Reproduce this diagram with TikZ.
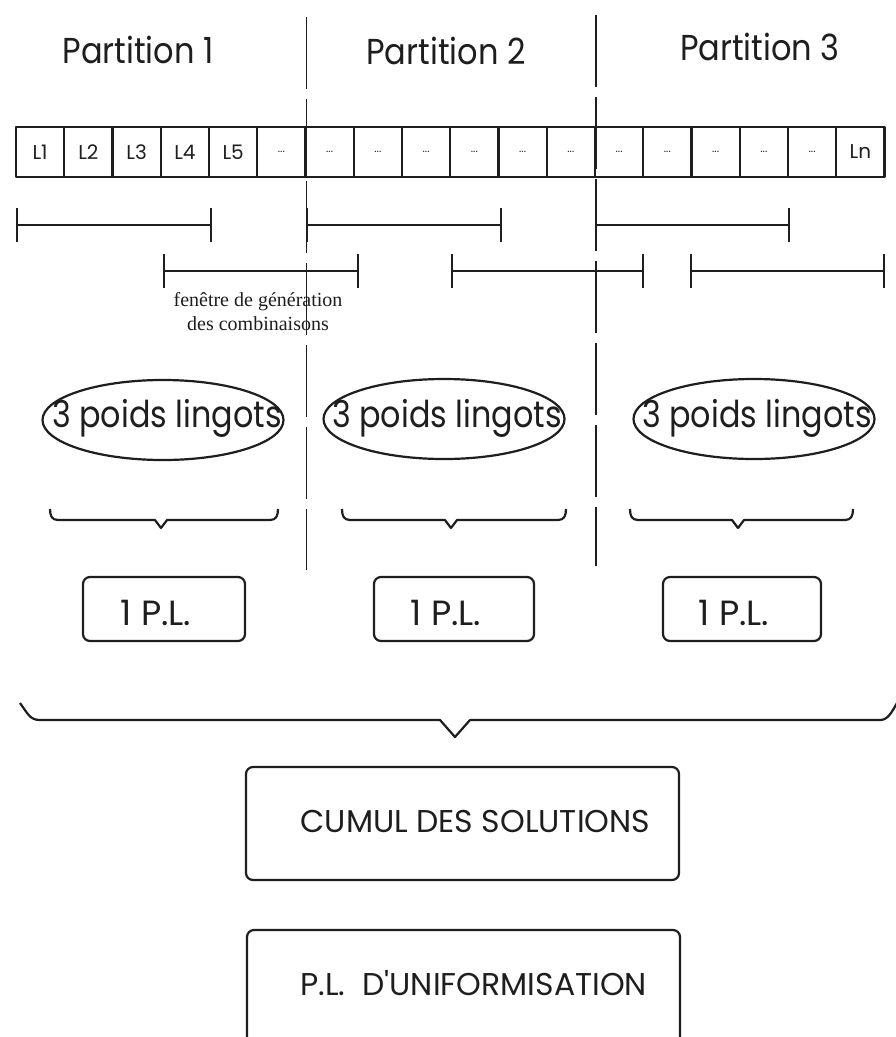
\documentclass[tikz,border=0pt]{standalone}
\usepackage{fontspec}
\setmainfont{Poppins}
\newfontfamily\serifface{Liberation Serif}
\usetikzlibrary{shapes.geometric}
\definecolor{ink}{HTML}{1E1E1E}

% small ellipsis written inside the anonymous cells
\newcommand\celldots{{\fontsize{11}{11}\selectfont...}}
% horizontally narrowed text
\newcommand\narrow[2]{\scalebox{#1}[1]{#2}}

% interval bar with end ticks: left x, right x, height
\newcommand\winbar[3]{%
  \draw[win] (#1,#3-17) -- (#1,#3+17) (#1,#3) -- (#2,#3) (#2,#3-17) -- (#2,#3+17);}

% flat brace opening upwards: left x, tip x, right x
\newcommand\flatbrace[3]{%
  \draw[brc] (#1,509) .. controls (#1,516) and (#1+2,520) .. (#1+8,520)
    -- (#2-6,520) -- (#2,528) -- (#2+6,520) -- (#3-8,520)
    .. controls (#3-2,520) and (#3,516) .. (#3,509);}

\begin{document}
\begin{tikzpicture}[x=1pt,y=-1pt,line join=round,
  every node/.style={text=ink},
  cellbox/.style={draw=ink,line width=2.2pt,minimum width=48.25pt,minimum height=50pt,
    inner sep=0pt,font=\fontsize{20}{20}\selectfont},
  partline/.style={draw=ink,line width=1.2pt,dash pattern=on 72pt off 10pt},
  win/.style={draw=ink,line width=2.2pt},
  brc/.style={draw=ink,line width=2.2pt},
  lingot/.style={ellipse,draw=ink,line width=2.2pt,minimum width=241pt,minimum height=80pt,inner sep=0pt},
  plbox/.style={draw=ink,line width=2.2pt,rounded corners=7pt,inner sep=0pt},
  title/.style={anchor=base,font=\fontsize{36}{36}\selectfont},
  lingtext/.style={anchor=base,font=\fontsize{37}{37}\selectfont},
  pltext/.style={anchor=base,font=\fontsize{35}{35}\selectfont},
  bigtext/.style={anchor=base west,font=\fontsize{31.5}{31.5}\selectfont},
  note/.style={anchor=base,font=\serifface\fontsize{20}{20}\selectfont}]

\useasboundingbox (0,0) rectangle (896,1037);
\clip (0,0) rectangle (896,1037);
\fill[white] (0,0) rectangle (896,1037);

% partition titles
\node[title] (p1) at (138,63) {\narrow{0.89}{Partition 1}};
\node[title] (p2) at (446,64) {\narrow{0.89}{Partition 2}};
\node[title] (p3) at (760,60) {\narrow{0.89}{Partition 3}};

% partition separators
\coordinate (s1top) at (306.5,17);
\coordinate (s1bot) at (306.5,570);
\coordinate (s2top) at (596,15);
\coordinate (s2bot) at (596,566);
\draw[partline] (s1top) -- (s1bot);
\draw[partline] (s2top) -- (s2bot);

% row of ingots
\foreach \i/\t in {1/L1,2/L2,3/L3,4/L4,5/L5,6/\celldots,7/\celldots,8/\celldots,9/\celldots,
  10/\celldots,11/\celldots,12/\celldots,13/\celldots,14/\celldots,15/\celldots,16/\celldots,
  17/\celldots,18/Ln}
  \node[cellbox] (c\i) at ({16+(\i-0.5)*48.25},152) {\t};

% generation windows
\winbar{17}{211}{225}
\winbar{307}{501}{225}
\winbar{596}{789}{225}
\winbar{164}{358}{271}
\winbar{452}{643}{271}
\winbar{691}{884}{271}

\node[note] (n1) at (258,306) {fenêtre de génération};
\node[note] (n2) at (258,330) {des combinaisons};

% weights per partition
\node[lingot] (e1) at (163,420) {};
\node[lingot] (e2) at (444,419) {};
\node[lingot] (e3) at (754,419) {};
\node[lingtext] (t1) at (167,427) {\narrow{0.86}{3 poids lingots}};
\node[lingtext] (t2) at (447,427) {\narrow{0.86}{3 poids lingots}};
\node[lingtext] (t3) at (757,427) {\narrow{0.86}{3 poids lingots}};

\flatbrace{50}{161}{278}
\flatbrace{342}{451}{566}
\flatbrace{630}{738}{853}

% one linear program per partition
\node[plbox,minimum width=162pt,minimum height=64pt] (b1) at (164,609) {};
\node[plbox,minimum width=160pt,minimum height=64pt] (b2) at (454,609) {};
\node[plbox,minimum width=158pt,minimum height=64pt] (b3) at (742,609) {};
\node[pltext] (l1) at (156,625) {1 P.L.};
\node[pltext] (l2) at (446,625) {1 P.L.};
\node[pltext] (l3) at (734,625) {1 P.L.};

% gathering brace
\draw[brc] (20,703) .. controls (28,714) and (30,720) .. (40,720) -- (440,720)
  -- (455,737) -- (470,720) -- (880,720) .. controls (888,720) and (892,712) .. (898,701);

% final stages
\node[plbox,minimum width=433pt,minimum height=113pt] (cum) at (462.5,823.5) {};
\node[bigtext] (cumt) at (297,832) {CUMUL DES SOLUTIONS};
\node[plbox,minimum width=433pt,minimum height=140pt] (uni) at (463.5,1000) {};
\node[bigtext] (unit) at (297,995) {P.L.\ \ D\textquotesingle UNIFORMISATION};
\end{tikzpicture}
\end{document}
